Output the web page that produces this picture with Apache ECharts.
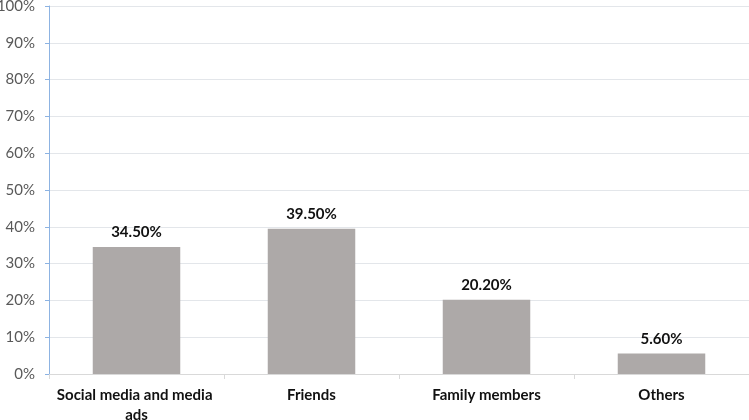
<!DOCTYPE html>
<html>
<head>
<meta charset="utf-8">
<script src="https://cdn.jsdelivr.net/npm/echarts@6/dist/echarts.min.js"></script>
<style>
  html, body { margin: 0; padding: 0; background: #fff; }
  #chart { width: 749px; height: 420px; }
</style>
</head>
<body>
<div id="chart"></div>
<script>
// categories and values (percent)
const categories = ['Social media and media ads', 'Friends', 'Family members', 'Others'];
const values = [34.5, 39.5, 20.2, 5.6];
const yTicks = [0, 10, 20, 30, 40, 50, 60, 70, 80, 90, 100];

const FONT = 'Lato, "Open Sans", sans-serif';

const chart = echarts.init(document.getElementById('chart'));
chart.setOption({
  animation: false,
  grid: { left: 49, right: 0, top: 6, bottom: 46, containLabel: false, outerBoundsMode: 'none' },
  xAxis: {
    type: 'category',
    data: categories,
    axisLine: { lineStyle: { color: '#d9d9d9' } },
    axisTick: { show: true, length: 5, lineStyle: { color: '#d9d9d9' } },
    axisLabel: {
      color: '#111',
      fontFamily: FONT,
      fontWeight: 'bold',
      fontSize: 15,
      margin: 11,
      lineHeight: 20,
      width: 162,
      overflow: 'break',
      interval: 0
    }
  },
  yAxis: {
    type: 'value',
    min: yTicks[0],
    max: yTicks[yTicks.length - 1],
    interval: 10,
    axisLine: { show: true, lineStyle: { color: '#8db3e2' } },
    axisTick: { show: true, length: 4, lineStyle: { color: '#8db3e2' } },
    splitLine: { lineStyle: { color: '#e3e6ea' } },
    axisLabel: {
      color: '#595959',
      fontFamily: FONT,
      fontSize: 15,
      margin: 14,
      formatter: v => v + '%'
    }
  },
  series: [{
    type: 'bar',
    data: values,
    barWidth: '50%',
    itemStyle: { color: '#ada9a8' },
    label: {
      show: true,
      position: 'top',
      distance: 7,
      color: '#111',
      fontFamily: FONT,
      fontWeight: 'bold',
      fontSize: 15,
      formatter: p => p.value.toFixed(2) + '%'
    }
  }]
});
</script>
</body>
</html>
